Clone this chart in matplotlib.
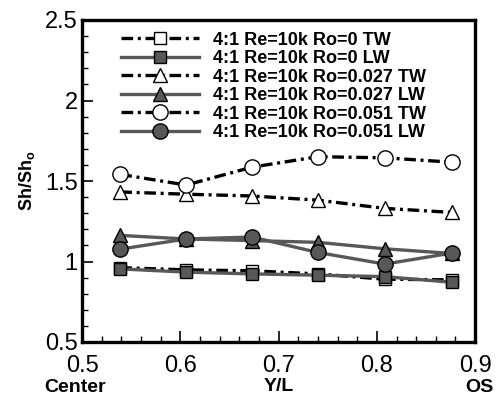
import matplotlib.pyplot as plt
from matplotlib.ticker import MultipleLocator

plt.rcParams['font.family'] = ['Liberation Sans', 'DejaVu Sans']

# Y/L positions of the measurement stations
x = [0.539, 0.606, 0.673, 0.740, 0.808, 0.876]

# Sh/Sh_o, TW = trailing wall, LW = leading wall
ro0_tw = [0.962, 0.948, 0.942, 0.923, 0.890, 0.886]
ro0_lw = [0.954, 0.934, 0.923, 0.915, 0.906, 0.871]
ro027_tw = [1.432, 1.418, 1.407, 1.381, 1.330, 1.305]
ro027_lw = [1.162, 1.140, 1.130, 1.119, 1.079, 1.050]
ro051_tw = [1.541, 1.475, 1.586, 1.651, 1.644, 1.617]
ro051_lw = [1.077, 1.140, 1.152, 1.056, 0.984, 1.052]

labels = ['4:1 Re=10k Ro=0 TW', '4:1 Re=10k Ro=0 LW',
          '4:1 Re=10k Ro=0.027 TW', '4:1 Re=10k Ro=0.027 LW',
          '4:1 Re=10k Ro=0.051 TW', '4:1 Re=10k Ro=0.051 LW']

fig = plt.figure(figsize=(4.97, 4.0), dpi=100)
ax = fig.add_axes([0.165, 0.145, 0.791, 0.805])

gray = '#585858'
dd = (3.5, 1.4, 0.9, 1.4)
lw = 2.4

ax.plot(x, ro0_tw, color='black', lw=lw, dashes=dd, marker='s', ms=8,
        mfc='white', mec='black', mew=1, label=labels[0])
ax.plot(x, ro0_lw, color=gray, lw=lw, marker='s', ms=8,
        mfc=gray, mec='black', mew=1, label=labels[1])
ax.plot(x, ro027_tw, color='black', lw=lw, dashes=dd, marker='^', ms=10,
        mfc='white', mec='black', mew=1, label=labels[2])
ax.plot(x, ro027_lw, color=gray, lw=lw, marker='^', ms=10,
        mfc=gray, mec='black', mew=1, label=labels[3])
ax.plot(x, ro051_tw, color='black', lw=lw, dashes=dd, marker='o', ms=11,
        mfc='white', mec='black', mew=1, label=labels[4])
ax.plot(x, ro051_lw, color=gray, lw=lw, marker='o', ms=11,
        mfc=gray, mec='black', mew=1, label=labels[5])

ax.set_xlim(0.5, 0.9)
ax.set_ylim(0.5, 2.5)
ax.xaxis.set_minor_locator(MultipleLocator(0.02))
ax.yaxis.set_minor_locator(MultipleLocator(0.1))
ax.set_xticks([0.5, 0.6, 0.7, 0.8, 0.9], ['0.5', '0.6', '0.7', '0.8', '0.9'])
ax.set_yticks([0.5, 1, 1.5, 2, 2.5], ['0.5', '1', '1.5', '2', '2.5'])
ax.tick_params(which='both', direction='in', top=False, right=False, labelsize=17)
ax.tick_params(which='major', length=8, width=1.2)
ax.tick_params(which='minor', length=4, width=1)
ax.tick_params(axis='x', which='major', pad=9)
ax.tick_params(axis='y', which='major', pad=3)
for s in ax.spines.values():
    s.set_linewidth(2.4)

ax.set_ylabel('Sh/Sh$_\\mathregular{o}$', fontsize=13, fontweight='bold', labelpad=6)
ax.set_xlabel('Y/L', fontsize=14, fontweight='bold', labelpad=1)
fig.text(0.09, 0.01, 'Center', fontsize=14, fontweight='bold', ha='left', va='bottom')
fig.text(0.992, 0.01, 'OS', fontsize=14, fontweight='bold', ha='right', va='bottom')

ax.legend(loc='upper left', bbox_to_anchor=(0.07, 1.0), frameon=False,
          prop={'weight': 'bold', 'size': 13}, handlelength=4.3,
          handletextpad=0.8, labelspacing=0.08, borderaxespad=0.25)

plt.savefig('out.png', dpi=100)
